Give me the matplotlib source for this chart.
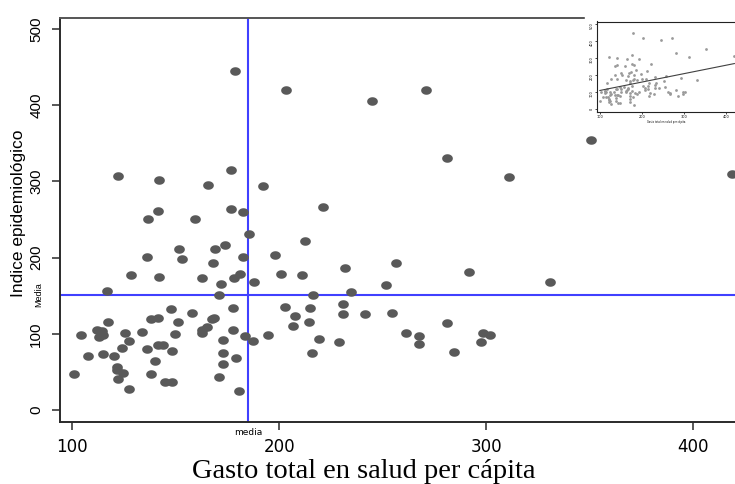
import matplotlib
matplotlib.use('Agg')
import matplotlib.pyplot as plt
from matplotlib.patches import Rectangle
import numpy as np

# gasto total en salud per capita (x) e indice epidemiologico (y)
gasto = [116.5, 171.0, 171.7, 187.8, 147.5, 158.0, 177.8, 137.8, 141.5, 117.2,
         150.9, 167.3, 168.5, 164.9, 162.5, 162.8, 104.0, 112.0, 114.1, 113.0,
         114.9, 125.4, 133.8, 149.6, 177.8, 183.5, 187.5, 173.0, 127.5, 124.1,
         141.2, 143.6, 135.9, 148.3, 107.6, 114.9, 120.1, 173.0, 179.1, 139.9,
         173.0, 121.7, 121.4, 124.6, 100.7, 137.8, 122.2, 171.0, 144.8, 148.3,
         127.5, 180.7,
         122.2, 142.0, 165.4, 176.5, 192.3, 141.2, 136.4, 159.3, 176.5, 182.6,
         185.4, 151.7, 168.9, 173.8, 135.9, 153.1, 168.1, 182.6, 128.2, 142.0,
         162.7, 178.3, 181.2, 178.6,
         212.5, 198.0, 200.7, 210.9, 231.8, 256.5, 291.7, 251.7, 216.5, 234.6,
         202.8, 207.6, 215.0, 231.0, 231.0, 241.4, 254.4, 206.8, 214.4, 194.4,
         219.3, 228.9, 215.9, 261.3, 267.6, 267.6, 281.3, 284.7, 298.5, 302.0,
         297.8,
         203.3, 244.8, 271.0, 281.3, 221.3, 351.0, 311.0, 418.9, 330.9]
indice = [155.6, 150.7, 165.1, 168.2, 132.0, 126.7, 133.7, 118.9, 120.2, 115.7,
          115.7, 118.9, 121.0, 109.2, 104.8, 100.5, 98.3, 104.8, 103.9, 96.1,
          98.3, 100.5, 102.6, 99.6, 104.8, 97.0, 90.4, 91.7, 90.4, 81.7,
          85.2, 85.2, 79.9, 77.3, 70.8, 73.0, 70.8, 74.3, 67.8, 64.6,
          59.9, 56.7, 52.4, 48.9, 46.8, 46.8, 40.6, 43.6, 37.1, 37.1,
          27.5, 24.9,
          306.7, 301.4, 294.9, 315.5, 294.5, 261.2, 251.2, 251.2, 264.4, 259.5,
          230.7, 211.9, 211.9, 216.3, 200.5, 197.5, 192.3, 200.5, 176.5, 174.7,
          173.4, 173.0, 177.9, 445.2,
          221.9, 204.0, 178.2, 176.9, 186.1, 192.3, 181.3, 163.8, 150.7, 154.3,
          135.0, 123.6, 133.3, 138.5, 125.4, 125.4, 126.7, 110.5, 115.7, 97.9,
          93.4, 88.7, 74.3, 101.3, 97.0, 86.5, 114.4, 75.6, 101.3, 97.9,
          88.7,
          419.4, 405.0, 419.4, 331.2, 266.1, 353.9, 305.8, 309.3, 168.2]

media_x = 184.8
media_y = 151.5
xticks = [100, 200, 300, 400]
yticks = [0, 100, 200, 300, 400, 500]
xlim = (94.0, 420.4)
ylim = (-15.4, 515.1)

fig = plt.figure(figsize=(7.35, 4.84), dpi=100)
ax = fig.add_axes([60/735, 62.3/484, 675/735, 404.2/484])

t = np.linspace(0, 2*np.pi, 40)
elipse = np.c_[1.25*np.cos(t), np.sin(t)]
ax.plot(gasto, indice, linestyle='none', marker=elipse, markersize=7.7,
        color='#595959', markeredgewidth=0, zorder=3)
ax.axvline(media_x, color='#4040ff', lw=1.5, zorder=2)
ax.axhline(media_y, color='#4040ff', lw=1.5, zorder=2)

ax.set_xlim(xlim)
ax.set_ylim(ylim)
ax.set_xticks(xticks)
ax.set_yticks(yticks)
ax.spines['right'].set_visible(False)
for s in ['left', 'bottom', 'top']:
    ax.spines[s].set_linewidth(1.4)
    ax.spines[s].set_color('#2a2a2a')
ax.spines['top'].set_color('#555555')
ax.tick_params(axis='both', direction='out', length=6, width=1.1, color='#2a2a2a', pad=6)
ax.tick_params(axis='y', labelrotation=90)
for lbl in ax.get_xticklabels():
    lbl.set_fontfamily('DejaVu Sans')
    lbl.set_fontsize(12)
for lbl in ax.get_yticklabels():
    lbl.set_fontfamily('Liberation Sans')
    lbl.set_fontsize(11)
    lbl.set_va('center')

ax.annotate('Media', xy=(0, media_y), xycoords=('axes fraction', 'data'),
            xytext=(-15, 0), textcoords='offset points', rotation=90,
            ha='center', va='center', fontsize=6.5, family='Liberation Sans')
ax.annotate('media', xy=(media_x, 0), xycoords=('data', 'axes fraction'),
            xytext=(0, -7.8), textcoords='offset points',
            ha='center', va='center', fontsize=6.5, family='DejaVu Sans')

fig.text(18.3/735, (484-213.5)/484, 'Indice epidemiológico', rotation=90,
         ha='center', va='center', fontsize=12.5, family='Liberation Sans')
fig.text(364/735, 6.5/484, 'Gasto total en salud per cápita',
         ha='center', va='baseline', fontsize=20.5, family='Liberation Serif')

# recuadro pequeño con la recta de regresion
fig.add_artist(Rectangle((585/735, (484-124)/484), 150/735, 114/484,
                         transform=fig.transFigure, color='white', zorder=1))
ins = fig.add_axes([597/735, (484-111.6)/484, 138/735, 90.1/484], zorder=2)
ins.plot(gasto, indice, linestyle='none', marker='o', markersize=2.0,
         color='#9a9a9a', markeredgewidth=0)
b, a = np.polyfit(gasto, indice, 1)
xs = np.array([min(gasto), max(gasto)])
ins.plot(xs, a + b*xs, color='#404040', lw=0.8)
ins.set_xlim(xlim)
ins.set_ylim(ylim)
ins.set_xticks(xticks)
ins.set_yticks(yticks)
ins.spines['right'].set_visible(False)
for s in ['left', 'bottom', 'top']:
    ins.spines[s].set_linewidth(0.8)
    ins.spines[s].set_color('#222222')
ins.tick_params(axis='both', length=1.5, width=0.5, labelsize=2.5, pad=1)
ins.tick_params(axis='y', labelrotation=90)
ins.set_xlabel('Gasto total en salud per cápita', fontsize=1.8, labelpad=1)

fig.savefig('out.png', dpi=100)
